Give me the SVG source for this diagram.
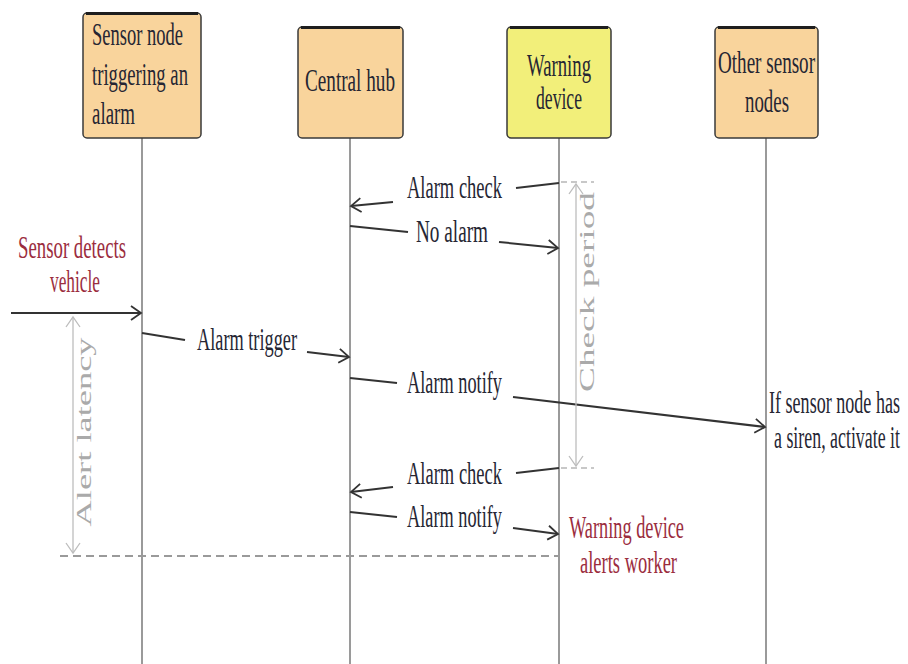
<svg xmlns="http://www.w3.org/2000/svg" width="908" height="664" viewBox="0 0 908 664">
<style>
.box{stroke:#3a3a3a;stroke-width:1.5}
.orange{fill:#f9d49c}
.yellow{fill:#f2ef7a}
.top{stroke:#1e1e1e;stroke-width:3}
.life{stroke:#9a9a9a;stroke-width:2}
.t{font-family:"Liberation Serif",serif;font-size:32px;fill:#262633}
.red{font-family:"Liberation Serif",serif;font-size:32px;fill:#9b2d3e}
.msg{stroke:#333;stroke-width:2;fill:none}
.note{font-family:"Liberation Serif",serif;font-size:21px;fill:#aaaaaa}
.dim{stroke:#bdbdbd;stroke-width:1.3;fill:none}
.tick{stroke:#c8c8c8;stroke-width:2;stroke-dasharray:6 4}
.dash{stroke:#9a9a9a;stroke-width:2;stroke-dasharray:8 5}
</style>
<defs>
<marker id="ah" markerUnits="userSpaceOnUse" markerWidth="14" markerHeight="16" refX="12" refY="8" orient="auto">
<path d="M2 1 L12 8 L2 15" fill="none" stroke="#333" stroke-width="1.8"/>
</marker>
<marker id="dh" markerUnits="userSpaceOnUse" markerWidth="14" markerHeight="16" refX="12" refY="8" orient="auto-start-reverse">
<path d="M2 1 L12 8 L2 15" fill="none" stroke="#bdbdbd" stroke-width="1.3"/>
</marker>
</defs>

<g id="node-sensor">
<line class="life" x1="142" y1="138" x2="142" y2="664"/>
<rect class="box orange" x="83" y="13" width="118" height="125" rx="4"/>
<line class="top" x1="86" y1="13.5" x2="198" y2="13.5"/>
<text class="t" x="92" y="45" textLength="91" lengthAdjust="spacingAndGlyphs">Sensor node</text>
<text class="t" x="92" y="85" textLength="96" lengthAdjust="spacingAndGlyphs">triggering an</text>
<text class="t" x="92" y="124" textLength="43" lengthAdjust="spacingAndGlyphs">alarm</text>
</g>

<g id="node-hub">
<line class="life" x1="350" y1="138" x2="350" y2="664"/>
<rect class="box orange" x="298" y="27" width="105" height="111" rx="4"/>
<line class="top" x1="301" y1="27.5" x2="400" y2="27.5"/>
<text class="t" x="305" y="91" textLength="90" lengthAdjust="spacingAndGlyphs">Central hub</text>
</g>

<g id="node-warning">
<line class="life" x1="559" y1="138" x2="559" y2="664"/>
<rect class="box yellow" x="507" y="27" width="104" height="111" rx="4"/>
<line class="top" x1="510" y1="27.5" x2="608" y2="27.5"/>
<text class="t" x="527" y="76" textLength="64" lengthAdjust="spacingAndGlyphs">Warning</text>
<text class="t" x="536" y="109" textLength="46" lengthAdjust="spacingAndGlyphs">device</text>
</g>

<g id="node-other">
<line class="life" x1="766" y1="138" x2="766" y2="664"/>
<rect class="box orange" x="715" y="27" width="103" height="111" rx="4"/>
<line class="top" x1="718" y1="27.5" x2="815" y2="27.5"/>
<text class="t" x="718" y="73" textLength="97" lengthAdjust="spacingAndGlyphs">Other sensor</text>
<text class="t" x="745" y="112" textLength="44" lengthAdjust="spacingAndGlyphs">nodes</text>
</g>

<g id="connectors">
<line class="msg" x1="559" y1="183" x2="516" y2="188"/>
<line class="msg" x1="393" y1="202" x2="351" y2="206" marker-end="url(#ah)"/>
<line class="msg" x1="350" y1="226" x2="408" y2="232"/>
<line class="msg" x1="499" y1="242" x2="558" y2="248" marker-end="url(#ah)"/>
<line class="msg" x1="11" y1="313" x2="141" y2="313" marker-end="url(#ah)"/>
<line class="msg" x1="142" y1="333" x2="185" y2="340"/>
<line class="msg" x1="307" y1="352" x2="349" y2="357" marker-end="url(#ah)"/>
<line class="msg" x1="350" y1="378" x2="397" y2="383"/>
<line class="msg" x1="513" y1="397" x2="765" y2="427" marker-end="url(#ah)"/>
<line class="msg" x1="559" y1="468" x2="516" y2="473"/>
<line class="msg" x1="393" y1="487" x2="351" y2="492" marker-end="url(#ah)"/>
<line class="msg" x1="350" y1="512" x2="397" y2="517"/>
<line class="msg" x1="513" y1="528" x2="558" y2="534" marker-end="url(#ah)"/>
<line class="dash" x1="60" y1="556" x2="559" y2="556"/>
<line class="dim" x1="73" y1="317" x2="73" y2="553" marker-start="url(#dh)" marker-end="url(#dh)"/>
<line class="tick" x1="561" y1="182" x2="594" y2="182"/>
<line class="tick" x1="561" y1="468" x2="594" y2="468"/>
<line class="dim" x1="576" y1="184" x2="576" y2="466" marker-start="url(#dh)" marker-end="url(#dh)"/>
</g>

<g id="labels">
<text class="t" x="407" y="198" textLength="95" lengthAdjust="spacingAndGlyphs">Alarm check</text>
<text class="t" x="416" y="242" textLength="72" lengthAdjust="spacingAndGlyphs">No alarm</text>
<text class="t" x="197" y="350" textLength="100" lengthAdjust="spacingAndGlyphs">Alarm trigger</text>
<text class="t" x="407" y="393" textLength="95" lengthAdjust="spacingAndGlyphs">Alarm notify</text>
<text class="t" x="407" y="484" textLength="95" lengthAdjust="spacingAndGlyphs">Alarm check</text>
<text class="t" x="407" y="527" textLength="95" lengthAdjust="spacingAndGlyphs">Alarm notify</text>
<text class="t" x="769" y="413" textLength="131" lengthAdjust="spacingAndGlyphs">If sensor node has</text>
<text class="t" x="774" y="448" textLength="126" lengthAdjust="spacingAndGlyphs">a siren, activate it</text>
<text class="red" x="18" y="258" textLength="108" lengthAdjust="spacingAndGlyphs">Sensor detects</text>
<text class="red" x="50" y="292" textLength="50" lengthAdjust="spacingAndGlyphs">vehicle</text>
<text class="red" x="569" y="538" textLength="115" lengthAdjust="spacingAndGlyphs">Warning device</text>
<text class="red" x="580" y="573" textLength="97" lengthAdjust="spacingAndGlyphs">alerts worker</text>
<text class="note" transform="translate(91 432) rotate(-90)" text-anchor="middle" textLength="189" lengthAdjust="spacingAndGlyphs">Alert latency</text>
<text class="note" transform="translate(594 292) rotate(-90)" text-anchor="middle" textLength="200" lengthAdjust="spacingAndGlyphs">Check period</text>
</g>
</svg>
